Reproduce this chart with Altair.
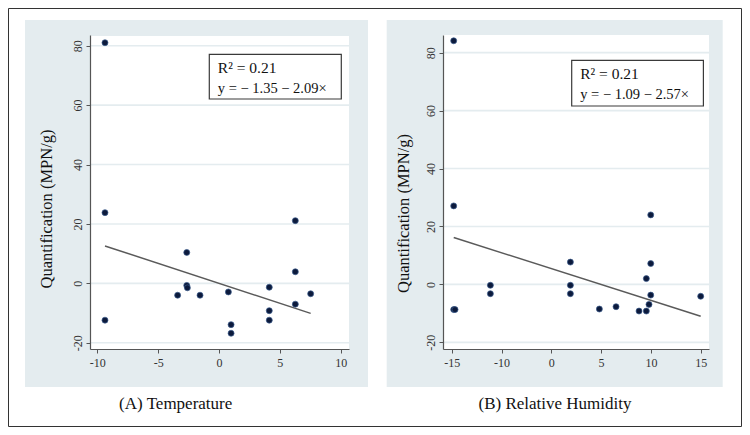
import altair as alt
import pandas as pd

FONT = "Liberation Serif"

# ---------- Panel A: Temperature ----------
A_x = [-9.37, -9.37, -9.37, -2.65, -2.65, -2.6, -3.4, -1.56, 0.77, 0.99, 0.99,
       4.13, 4.13, 4.13, 6.27, 6.27, 6.27, 7.53]
A_y = [81.0, 23.8, -12.4, 10.4, -0.7, -1.5, -4.0, -4.0, -2.9, -13.9, -16.8,
       -1.3, -9.2, -12.4, 21.1, 3.9, -7.0, -3.5]
A_line_x = [-9.37, 7.53]
A_line_y = [12.6, -10.1]
A_xticks = [-10, -5, 0, 5, 10]
A_xlabels = ["-10", "-5", "0", "5", "10"]
A_box = ["R\u00b2 = 0.21", "y = \u2212 1.35 \u2212 2.09\u00d7"]
A_caption = "(A) Temperature"

# ---------- Panel B: Relative Humidity ----------
B_x = [-14.76, -14.76, -14.76, -14.6, -10.34, -10.34, -0.7, -0.7, -0.7, 2.79,
       4.8, 7.57, 8.45, 8.45, 8.98, 8.98, 8.98, 8.77, 15.0]
B_y = [84.1, 27.1, -8.7, -8.7, -0.3, -3.2, 7.7, -0.3, -3.2, -8.5,
       -7.7, -9.2, -9.2, 2.0, 24.0, 7.2, -3.7, -6.9, -4.1]
B_line_x = [-14.76, 15.0]
B_line_y = [16.2, -11.0]
B_xticks = [-15, -9, -3, 3, 9, 15]
B_xlabels = ["-15", "-10", "0", "5", "10", "15"]
B_box = ["R\u00b2 = 0.21", "y = \u2212 1.09 \u2212 2.57\u00d7"]
B_caption = "(B) Relative Humidity"

y_ticks = [-20, 0, 20, 40, 60, 80]
y_labels = ["-20", "0", "20", "40", "60", "80"]
y_title = "Quantification (MPN/g)"

BG = "#e4ecef"
H = 314


def label_expr(vals, labels):
    expr = "''"
    for v, l in reversed(list(zip(vals, labels))):
        expr = f"datum.value == {v} ? '{l}' : ({expr})"
    return expr


def panel(px, py, lx, ly, xdom, ydom, width, xticks, xlabels, box, caption, geo, border=None):
    pts = pd.DataFrame({"x": px, "y": py})
    ln = pd.DataFrame({"x": lx, "y": ly})
    grid = pd.DataFrame({"y": y_ticks})
    one = pd.DataFrame({"a": [0]})

    xaxis = alt.Axis(values=xticks, labelExpr=label_expr(xticks, xlabels), grid=False,
                     domainColor="#555", tickColor="#555", tickSize=4, domainWidth=1.2,
                     labelFont=FONT, labelFontSize=12, labelColor="#333", labelPadding=4,
                     labelFlush=False, labelOverlap=False, title=None, zindex=1)
    yaxis = alt.Axis(values=y_ticks, labelExpr=label_expr(y_ticks, y_labels), grid=False,
                     domainColor="#555", tickColor="#555", tickSize=4, domainWidth=1.2,
                     labelFont=FONT, labelFontSize=12, labelColor="#333",
                     labelAngle=-90, labelAlign="center", labelBaseline="bottom",
                     labelPadding=2, labelFlush=False, labelOverlap=False,
                     title=y_title, titleFont=FONT, titleFontSize=16.5,
                     titleFontWeight="normal", titleColor="#111",
                     titleX=geo["tx"], titleY=geo["ty"], titleAngle=270,
                     titleAlign="center", titleBaseline="middle", zindex=1)
    xs = alt.Scale(domain=xdom, nice=False, zero=False)
    ys = alt.Scale(domain=ydom, nice=False, zero=False)
    X = alt.X("x:Q", scale=xs, axis=xaxis)
    Y = alt.Y("y:Q", scale=ys, axis=yaxis)

    bg = alt.Chart(one).mark_rect(color=BG).encode(
        x=alt.value(geo["bx"]), x2=alt.value(geo["bx2"]),
        y=alt.value(-15), y2=alt.value(352))
    white = alt.Chart(one).mark_rect(color="white").encode(
        x=alt.value(0), x2=alt.value(width), y=alt.value(geo["wy"]), y2=alt.value(H))
    gl = alt.Chart(grid).mark_rule(color=BG, strokeWidth=1.6).encode(
        y=Y, x=alt.value(0), x2=alt.value(width))
    reg = alt.Chart(ln).mark_line(color="#5a5a5a", strokeWidth=1.5).encode(x=X, y=Y)
    dots = alt.Chart(pts).mark_point(filled=True, size=36, color="#0c1a3c", opacity=1,
                                     stroke="#3b5b8c", strokeWidth=0.7).encode(x=X, y=Y)
    boxr = alt.Chart(one).mark_rect(fill="white", stroke="#3a3a3a", strokeWidth=1.2).encode(
        x=alt.value(geo["kx"]), x2=alt.value(geo["kx2"]),
        y=alt.value(geo["ky"]), y2=alt.value(geo["ky2"]))
    t1 = alt.Chart(pd.DataFrame({"t": [box[0]]})).mark_text(
        font=FONT, fontSize=15.5, align="left", baseline="alphabetic", color="#111").encode(
        text="t:N", x=alt.value(geo["kx"] + 8.5), y=alt.value(geo["ky"] + 19))
    t2 = alt.Chart(pd.DataFrame({"t": [box[1]]})).mark_text(
        font=FONT, fontSize=14.5, align="left", baseline="alphabetic", color="#111").encode(
        text="t:N", x=alt.value(geo["kx"] + 8.5), y=alt.value(geo["ky"] + 38.5))
    cap = alt.Chart(pd.DataFrame({"t": [caption]})).mark_text(
        font=FONT, fontSize=17, align="center", baseline="alphabetic", color="#111").encode(
        text="t:N", x=alt.value(geo["cx"]), y=alt.value(374))
    layers = [bg, white, gl, reg, dots, boxr, t1, t2, cap]
    if border is not None:
        layers.append(alt.Chart(one).mark_rect(fillOpacity=0, stroke="#333", strokeWidth=1).encode(
            x=alt.value(border[0]), x2=alt.value(border[1]),
            y=alt.value(border[2]), y2=alt.value(border[3])))
    return alt.layer(*layers).properties(width=width, height=H)


pA = panel(A_x, A_y, A_line_x, A_line_y, [-10.6, 10.68], [-22.1, 83.6], 259,
           A_xticks, A_xlabels, A_box, A_caption,
           dict(tx=-43.3, ty=173.5, bx=-65, bx2=278, wy=1,
                kx=119.3, kx2=251.3, ky=19.3, ky2=64, cx=85.7),
           border=(-81.5, 651.5, -26.5, 391.5))
pB = panel(B_x, B_y, B_line_x, B_line_y, [-16.05, 16.0], [-22.3, 86.1], 266,
           B_xticks, B_xlabels, B_box, B_caption,
           dict(tx=-40, ty=178, bx=-56.3, bx2=279.7, wy=0,
                kx=128.7, kx2=260.4, ky=25.3, ky2=71, cx=112))

chart = alt.hconcat(pA, pB, spacing=94, bounds="flush").properties(
    padding=0, background="white"
).configure_view(strokeWidth=0)

chart.save("out.html", embed_options={"renderer": "svg", "actions": False})
